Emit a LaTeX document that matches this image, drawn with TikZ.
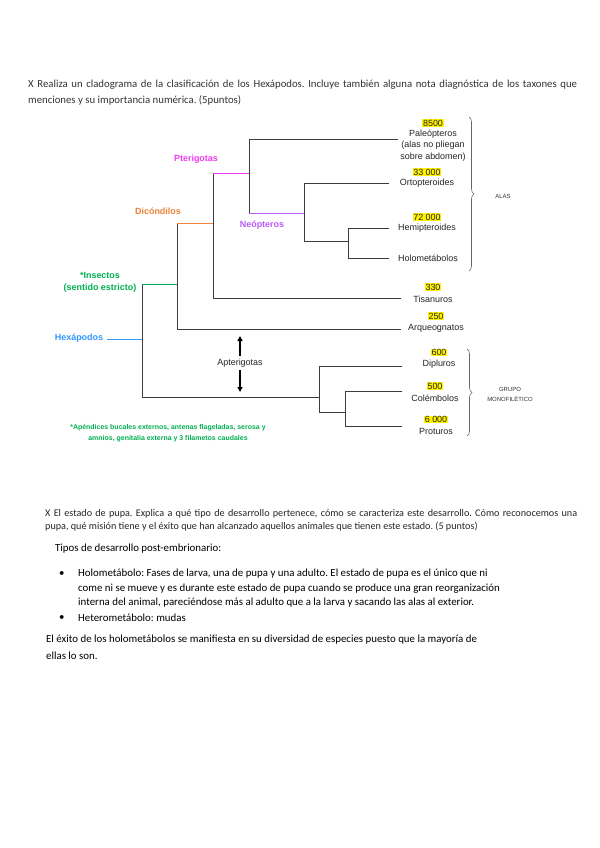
\documentclass[tikz,border=0pt]{standalone}
\usepackage{fontspec}
\setmainfont{Carlito}
\newfontfamily\arial{Liberation Sans}
\usetikzlibrary{decorations.pathreplacing,arrows.meta}
\definecolor{ptc}{RGB}{240,60,240}
\definecolor{nec}{RGB}{185,90,250}
\definecolor{dicc}{RGB}{240,130,60}
\definecolor{insc}{RGB}{0,176,80}
\definecolor{hexc}{RGB}{51,153,255}
\definecolor{brc}{RGB}{60,60,60}
\begin{document}
\frenchspacing
\begin{tikzpicture}[x=1bp,y=-1bp,
  br/.style={draw=brc, line width=0.9bp},
  lab/.style={font=\arial\fontsize{9}{11.5}\selectfont, inner sep=0pt, align=center, text=black!85},
  num/.style={font=\arial\fontsize{9}{11}\selectfont, fill=yellow, inner sep=0.6bp, text=black!85},
  clade/.style={font=\arial\bfseries\fontsize{9}{12}\selectfont, inner sep=0pt, align=center},
  small/.style={font=\arial\fontsize{6}{10}\selectfont, inner sep=0pt, align=center, text=black!80},
  bracestyle/.style={draw=black!60, line width=0.6bp, decorate, decoration={brace, amplitude=5bp}},
  arr/.style={draw=black, line width=1.3bp, -{Triangle[length=5bp,width=5bp]}},
  qtext/.style={anchor=west, inner sep=0pt, font=\fontsize{10.8}{12}\selectfont, text=black!80},
  qtextb/.style={anchor=west, inner sep=0pt, font=\fontsize{10.2}{12}\selectfont, text=black!85},
  body/.style={anchor=west, inner sep=0pt, font=\fontsize{10.9}{12}\selectfont, text=black}]
\useasboundingbox (0,0) rectangle (600,848);
\fill[white] (0,0) rectangle (600,848);

% question 1
\node[qtext] (q1) at (28,85) {\makebox[549bp][s]{X Realiza un cladograma de la clasificación de los Hexápodos. Incluye también alguna nota diagnóstica de los taxones que}};
\node[qtext] (q2) at (28,100) {menciones y su importancia numérica. (5puntos)};

% branch coordinates
\coordinate (hxT) at (142,284); \coordinate (hxB) at (142,397); \coordinate (hxM) at (142,339);
\coordinate (inT) at (177,223); \coordinate (inB) at (177,329); \coordinate (inM) at (177,284);
\coordinate (dcT) at (213,173); \coordinate (dcB) at (213,298); \coordinate (dcM) at (213,223);
\coordinate (ptT) at (249,139); \coordinate (ptB) at (249,213); \coordinate (ptM) at (249,173);
\coordinate (neT) at (304,183); \coordinate (neB) at (304,241); \coordinate (neM) at (304,213);
\coordinate (hmT) at (348,228); \coordinate (hmB) at (348,258); \coordinate (hmM) at (348,241);
\coordinate (apT) at (319,366); \coordinate (apB) at (319,412); \coordinate (apM) at (319,397);
\coordinate (coT) at (345,391); \coordinate (coB) at (345,426); \coordinate (coM) at (345,412);
\coordinate (ePal) at (398,139); \coordinate (eOrt) at (389,183); \coordinate (eHem) at (389,228);
\coordinate (eHol) at (389,258); \coordinate (eTis) at (401,298); \coordinate (eArq) at (401,329);
\coordinate (eDip) at (402,366); \coordinate (eCol) at (402,391); \coordinate (ePro) at (402,426);

% tree
\draw[br] (hxT) -- (hxB);
\draw[br] (inT) -- (inB) -- (eArq);
\draw[br] (dcT) -- (dcB) -- (eTis);
\draw[br] (ePal) -- (ptT) -- (ptB);
\draw[br] (eOrt) -- (neT) -- (neB) -- (hmM);
\draw[br] (eHem) -- (hmT) -- (hmB) -- (eHol);
\draw[br] (hxB) -- (apM);
\draw[br] (eDip) -- (apT) -- (apB) -- (coM);
\draw[br] (eCol) -- (coT) -- (coB) -- (ePro);
\draw[br, draw=insc] (hxT) -- (inM);
\draw[br, draw=dicc] (inT) -- (dcM);
\draw[br, draw=ptc] (dcT) -- (ptM);
\draw[br, draw=nec] (ptB) -- (neM);

% clade labels
\node[clade, text=hexc] (hex) at (79,338) {Hexápodos};
\draw[br, draw=hexc] ([xshift=4bp]hex.east |- hxM) -- (hxM);
\node[clade, text=insc] (ins) at (100,282) {*Insectos\\(sentido estricto)};
\node[clade, text=dicc] (dic) at (158,211) {Dicóndilos};
\node[clade, text=ptc] (pte) at (196,159) {Pterigotas};
\node[clade, text=nec] (neo) at (262,225) {Neópteros};

% leaf labels
\node[num] (n1) at (433,123) {8500};
\node[lab] (pal) at (433,145.5) {Paleópteros\\(alas no pliegan\\sobre abdomen)};
\node[num] (n2) at (427,172) {33 000};
\node[lab] (ort) at (427,183.5) {Ortopteroides};
\node[num] (n3) at (427,217) {72 000};
\node[lab] (hem) at (427,228.5) {Hemipteroides};
\node[lab] (hol) at (428,258.5) {Holometábolos};
\node[num] (n4) at (433,287) {330};
\node[lab] (tis) at (433,299) {Tisanuros};
\node[num] (n5) at (436,316) {250};
\node[lab] (arq) at (436,328.5) {Arqueognatos};
\node[num] (n6) at (439,352.5) {600};
\node[lab] (dip) at (439,364.5) {Dipluros};
\node[num] (n7) at (435,386) {500};
\node[lab] (col) at (435,398) {Colémbolos};
\node[num] (n8) at (436,419.5) {6 000};
\node[lab] (pro) at (436,431) {Proturos};

% braces
\coordinate (b1t) at (469,117); \coordinate (b1b) at (469,271);
\draw[bracestyle] (b1t) -- (b1b);
\node[small] (alas) at (503,196) {ALAS};
\coordinate (b2t) at (467,349); \coordinate (b2b) at (467,436);
\draw[bracestyle] (b2t) -- (b2b);
\node[small] (grupo) at (510,394.5) {GRUPO\\MONOFILÉTICO};

% apterigotas
\node[lab] (apt) at (240,363) {Apterigotas};
\coordinate (uptip) at (240,336);
\coordinate (dntip) at (240,392);
\draw[arr, shorten <=3bp] (apt.north) -- (uptip);
\draw[arr, shorten <=3bp] (apt.south) -- (dntip);

% footnote
\node[clade, text=insc, font=\arial\bfseries\fontsize{7}{11.3}\selectfont] (foot) at (168,433.5) {*Apéndices bucales externos, antenas flageladas, serosa y\\amnios, genitalia externa y 3 filametos caudales};

% question 2
\node[qtextb] (p1) at (45,514) {\makebox[532bp][s]{X El estado de pupa. Explica a qué tipo de desarrollo pertenece, cómo se caracteriza este desarrollo. Cómo reconocemos una}};
\node[qtextb] (p2) at (45,527) {pupa, qué misión tiene y el éxito que han alcanzado aquellos animales que tienen este estado. (5 puntos)};

% answer
\node[body] (t0) at (55,549) {Tipos de desarrollo post-embrionario:};
\node[body] (b1) at (59,574) {\textbullet};
\node[body] (l1) at (78,574) {Holometábolo: Fases de larva, una de pupa y una adulto. El estado de pupa es el único que ni};
\node[body] (l2) at (78,588.5) {come ni se mueve y es durante este estado de pupa cuando se produce una gran reorganización};
\node[body] (l3) at (78,603) {interna del animal, pareciéndose más al adulto que a la larva y sacando las alas al exterior.};
\node[body] (b2) at (59,618) {\textbullet};
\node[body] (l4) at (78,618) {Heterometábolo: mudas};
\node[body] (l5) at (46,640) {El éxito de los holometábolos se manifiesta en su diversidad de especies puesto que la mayoría de};
\node[body] (l6) at (46,656) {ellas lo son.};
\end{tikzpicture}
\end{document}
